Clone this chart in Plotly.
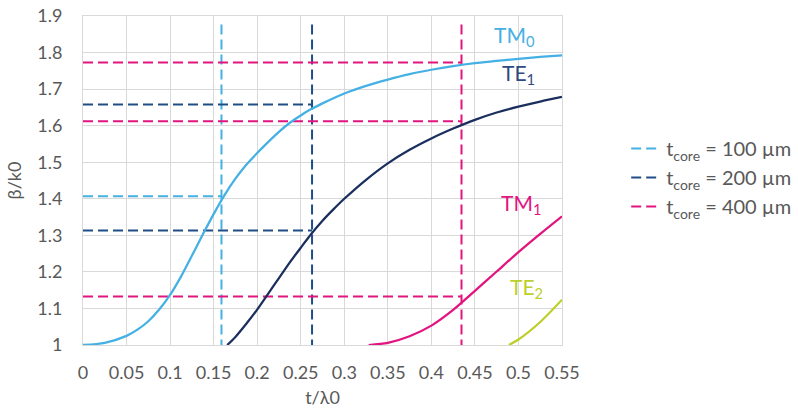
import plotly.graph_objects as go

# ---- mode curves (beta/k0 vs t/lambda0) ----
tm0_x = [0, 0.025, 0.05, 0.0625, 0.075, 0.0875, 0.1, 0.1125, 0.125, 0.1375, 0.15, 0.1625,
         0.175, 0.1875, 0.2, 0.2125, 0.225, 0.2375, 0.25, 0.2625, 0.275, 0.3, 0.325, 0.35,
         0.375, 0.4, 0.425, 0.45, 0.475, 0.5, 0.525, 0.55]
tm0_y = [1.0, 1.006, 1.025, 1.042, 1.065, 1.097, 1.137, 1.187, 1.244, 1.302, 1.358, 1.41,
         1.455, 1.493, 1.525, 1.555, 1.583, 1.608, 1.628, 1.646, 1.661, 1.688, 1.709, 1.726,
         1.741, 1.753, 1.763, 1.771, 1.777, 1.783, 1.788, 1.7925]

te1_x = [0.1656, 0.175, 0.1875, 0.2, 0.2125, 0.225, 0.2375, 0.25, 0.2625, 0.275, 0.2875,
         0.3, 0.325, 0.35, 0.375, 0.4, 0.425, 0.45, 0.475, 0.5, 0.525, 0.55]
te1_y = [1.0, 1.022, 1.058, 1.097, 1.14, 1.183, 1.226, 1.266, 1.305, 1.34, 1.371,
         1.4, 1.452, 1.497, 1.534, 1.565, 1.592, 1.616, 1.636, 1.652, 1.666, 1.6785]

tm1_x = [0.328, 0.35, 0.375, 0.4, 0.425, 0.45, 0.475, 0.5, 0.525, 0.55]
tm1_y = [1.0, 1.006, 1.024, 1.053, 1.096, 1.148, 1.201, 1.254, 1.304, 1.352]

te2_x = [0.489, 0.5, 0.525, 0.55]
te2_y = [1.0, 1.015, 1.063, 1.124]

# ---- reference dashed lines for each core thickness ----
core_names = ["t<sub>core</sub> = 100 µm", "t<sub>core</sub> = 200 µm", "t<sub>core</sub> = 400 µm"]
core_t = [0.159, 0.263, 0.4346]
core_beta = [[1.407], [1.6576, 1.3135], [1.7725, 1.612, 1.1325]]
vline_bottom = 1.0
vline_top = 1.877

# ---- axis ticks ----
x_ticks = [0, 0.05, 0.1, 0.15, 0.2, 0.25, 0.3, 0.35, 0.4, 0.45, 0.5, 0.55]
x_ticklabels = ["0", "0.05", "0.1", "0.15", "0.2", "0.25", "0.3", "0.35", "0.4", "0.45", "0.5", "0.55"]
y_ticks = [1, 1.1, 1.2, 1.3, 1.4, 1.5, 1.6, 1.7, 1.8, 1.9]
y_ticklabels = ["1", "1.1", "1.2", "1.3", "1.4", "1.5", "1.6", "1.7", "1.8", "1.9"]

# ---- curve labels ----
label_text = ["TM<sub>0</sub>", "TE<sub>1</sub>", "TM<sub>1</sub>", "TE<sub>2</sub>"]
label_x = [0.470, 0.479, 0.478, 0.4885]
label_y = [1.846, 1.740, 1.386, 1.155]

C_LB = "#45B0E3"
C_NAVY = "#1B2F5E"
C_DB = "#1F4E86"
C_MAG = "#E2147F"
C_YG = "#BDCF2A"
GRID = "#D9D9D9"
TXT = "#595959"
FONT = "Lato, 'Open Sans', sans-serif"

fig = go.Figure()

core_colors = [C_LB, C_DB, C_MAG]
for name, t, betas, col in zip(core_names, core_t, core_beta, core_colors):
    xs, ys = [], []
    for b in betas:
        xs += [0, t, None]
        ys += [b, b, None]
    xs += [t, t]
    ys += [vline_top, vline_bottom]
    fig.add_trace(go.Scatter(x=xs, y=ys, mode="lines", name=name,
                             line=dict(color=col, width=2, dash="10px,5px"),
                             connectgaps=False))

for xs, ys, col in [(tm0_x, tm0_y, C_LB), (te1_x, te1_y, C_NAVY),
                    (tm1_x, tm1_y, C_MAG), (te2_x, te2_y, C_YG)]:
    fig.add_trace(go.Scatter(x=xs, y=ys, mode="lines", showlegend=False,
                             line=dict(color=col, width=2.25, shape="spline", smoothing=0.8)))

label_colors = [C_LB, "#2E4A80", C_MAG, C_YG]
for txt, lx, ly, col in zip(label_text, label_x, label_y, label_colors):
    fig.add_annotation(x=lx, y=ly, text=txt, showarrow=False, xanchor="left", yanchor="middle",
                       font=dict(family=FONT, size=21, color=col))

fig.update_xaxes(range=[0, 0.55], tickmode="array", tickvals=x_ticks, ticktext=x_ticklabels,
                 showgrid=True, gridcolor=GRID, gridwidth=1,
                 showline=True, linecolor=GRID, linewidth=1, mirror=True, zeroline=False,
                 ticks="", ticklabelstandoff=11, automargin=False, ticklabeloverflow="allow",
                 tickfont=dict(family=FONT, size=18, color=TXT),
                 title=dict(text="t/λ0", font=dict(family=FONT, size=18, color=TXT), standoff=9))
fig.update_yaxes(range=[1, 1.9], tickmode="array", tickvals=y_ticks, ticktext=y_ticklabels,
                 showgrid=True, gridcolor=GRID, gridwidth=1,
                 showline=True, linecolor=GRID, linewidth=1, mirror=True, zeroline=False,
                 ticks="", ticklabelstandoff=16, automargin=False, ticklabeloverflow="allow",
                 tickfont=dict(family=FONT, size=18, color=TXT),
                 title=dict(text="β/k0", font=dict(family=FONT, size=18, color=TXT), standoff=10))

fig.update_layout(
    width=798, height=414,
    margin=dict(l=82.5, r=236.3, t=15.7, b=69.3, autoexpand=False),
    paper_bgcolor="white", plot_bgcolor="white",
    showlegend=True,
    legend=dict(x=1.134, y=0.509, xanchor="left", yanchor="middle",
                font=dict(family=FONT, size=20, color=TXT),
                bgcolor="rgba(0,0,0,0)", tracegroupgap=0, itemwidth=30),
)

# remove the browser's default 8px body margin so the 798x414 figure fills the window exactly
fig.write_html("out.html", config={"displayModeBar": False},
               post_script="document.body.style.margin='0';")
